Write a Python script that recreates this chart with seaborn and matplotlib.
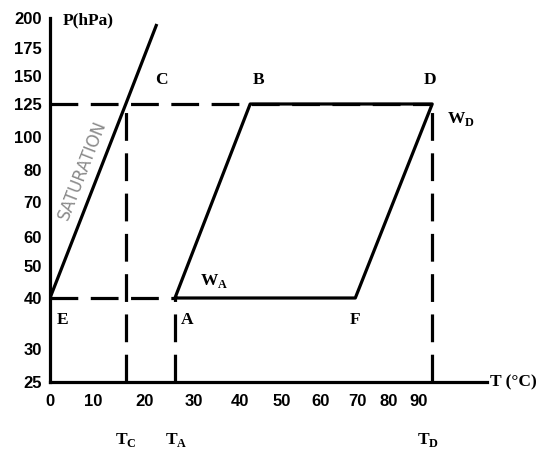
import numpy as np
import pandas as pd
import matplotlib
matplotlib.use("Agg")
import matplotlib.pyplot as plt
import seaborn as sns

# --- data ---
P_low = 40      # hPa, lower isobar (E, A, F)
P_high = 125    # hPa, upper isobar (C, B, D)
T_C = 16.3
T_A = 26.1
T_B = 42.4
T_F = 69.5
T_D = 95.2
sat_T = [0, T_C, 22.4]
sat_P = [P_low, P_high, 195]

x_ticks = [0, 10, 20, 30, 40, 50, 60, 70, 80, 90, 100, 110]
x_ticklabels = ["0", "10", "20", "30", "40", "50", "60", "70", "80", "90", "", ""]
y_ticks = [25, 30, 40, 50, 60, 70, 80, 100, 125, 150, 175, 200]

# non-uniform axes of the original drawing (tick value -> drawn distance)
x_knots = [-10, 0, 10, 20, 30, 40, 50, 60, 70, 80, 90, 100, 110, 120, 140]
x_dist = [-43, 0, 43, 95, 144, 190, 232, 270, 307, 339, 368, 395, 417, 439, 483]
y_knots = [15, 25, 30, 40, 50, 60, 70, 80, 100, 125, 150, 175, 200, 230]
y_dist = [-66, 0, 33, 84, 116, 145, 180, 212, 245, 278, 306, 334, 364, 400]

sns.set_theme(style="white")
plt.rcParams["lines.scale_dashes"] = False
plt.rcParams["mathtext.fontset"] = "custom"
plt.rcParams["mathtext.bf"] = "Liberation Serif:bold"
plt.rcParams["mathtext.rm"] = "Liberation Serif:bold"

fig = plt.figure(figsize=(5.46, 4.51), dpi=100)
ax = fig.add_axes([50 / 546, 69 / 451, 437 / 546, 364 / 451])

ax.set_xscale("function", functions=(lambda v: np.interp(v, x_knots, x_dist),
                                     lambda d: np.interp(d, x_dist, x_knots)))
ax.set_yscale("function", functions=(lambda v: np.interp(v, y_knots, y_dist),
                                     lambda d: np.interp(d, y_dist, y_knots)))

lw = 2.3
dash = (0, (20, 9))


def seg(xs, ys, ls="-"):
    df = pd.DataFrame({"T": xs, "P": ys})
    sns.lineplot(data=df, x="T", y="P", sort=False, estimator=None, ax=ax,
                 color="black", linewidth=lw, linestyle=ls,
                 solid_capstyle="butt", dash_capstyle="butt")


# saturation curve
seg(sat_T, sat_P)
# dashed guides (verticals drawn up from the T axis)
seg([0, T_D], [P_high, P_high], dash)
seg([0, T_A], [P_low, P_low], dash)
seg([T_C, T_C], [25, P_high], dash)
seg([T_A, T_A], [25, P_low], dash)
seg([T_D, T_D], [25, P_high], dash)
# cycle A -> B -> D -> F -> A
seg([T_A, T_B, T_D, T_F, T_A], [P_low, P_high, P_high, P_low, P_low])

ax.set_xlim(0, 119)
ax.set_ylim(25, 200)
ax.set_xticks(x_ticks)
ax.set_xticklabels(x_ticklabels)
ax.set_yticks(y_ticks)
ax.set_yticklabels([str(v) for v in y_ticks])
ax.set_xlabel("")
ax.set_ylabel("")
ax.minorticks_off()

for s in ["top", "right"]:
    ax.spines[s].set_visible(False)
for s in ["left", "bottom"]:
    ax.spines[s].set_linewidth(2.3)
    ax.spines[s].set_color("black")
ax.tick_params(axis="both", direction="in", length=3, width=1, color="black",
               labelsize=12, pad=9)
ax.tick_params(axis="y", pad=6)
for lab in ax.get_xticklabels() + ax.get_yticklabels():
    lab.set_fontfamily("Liberation Sans")
    lab.set_fontweight("bold")
    lab.set_color("black")

lbl = dict(fontfamily="Liberation Serif", fontweight="bold", fontsize=12.5,
           color="black", ha="center", va="center", textcoords="offset points")


def tag(s, xy, off, **kw):
    d = dict(lbl)
    d.update(kw)
    ax.annotate(s, xy=xy, xytext=off, annotation_clip=False, **d)


tag("C", (T_C, P_high), (26, 17))
tag("B", (T_B, P_high), (6, 17))
tag("D", (T_D, P_high), (-1.5, 17))
tag(r"$\mathbf{W}_{\mathbf{D}}$", (T_D, P_high), (21, -11))
tag("E", (0, P_low), (9, -16))
tag("A", (T_A, P_low), (9, -16))
tag("F", (T_F, P_low), (0, -16))
tag(r"$\mathbf{W}_{\mathbf{A}}$", (T_A, P_low), (28, 12))
tag(r"$\mathbf{T}_{\mathbf{C}}$", (T_C, 25), (0, -42))
tag(r"$\mathbf{T}_{\mathbf{A}}$", (T_A, 25), (1, -42))
tag(r"$\mathbf{T}_{\mathbf{D}}$", (T_D, 25), (-3, -42))
tag("P(hPa)", (0, 200), (9, -1.5), ha="left")
tag("T (°C)", (119, 25), (2, 0), ha="left")

ax.text(7.4, 80, "SATURATION", rotation=68.7, rotation_mode="anchor",
        ha="center", va="center", fontsize=12, color="#8a8a8a",
        fontfamily="DejaVu Sans")

fig.savefig("out.png", dpi=100)
